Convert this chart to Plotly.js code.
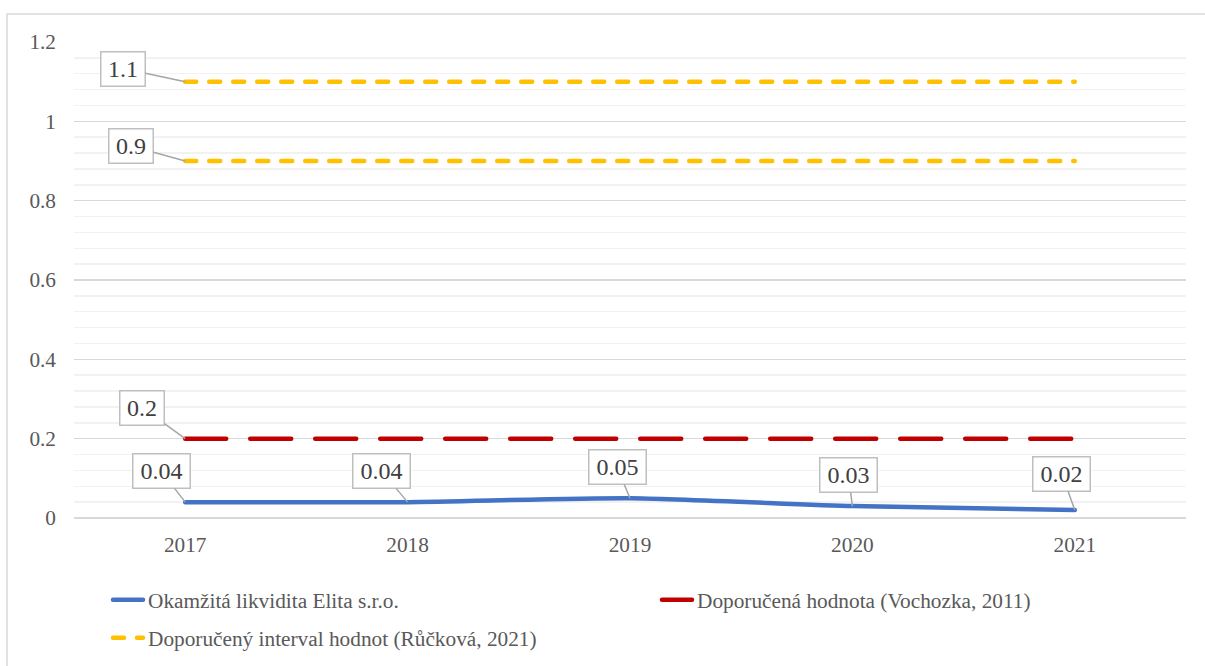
<!DOCTYPE html>
<html>
<head>
<meta charset="utf-8">
<script src="https://cdn.plot.ly/plotly-3.0.1.min.js"></script>
<style>
html,body{margin:0;padding:0;background:#fff;}
#chart{width:1205px;height:666px;}
.scatterlayer .js-line{stroke-linecap:round;}
.legendlines path{stroke-linecap:round;}
</style>
</head>
<body>
<div id="chart"></div>
<script>
// ---- data ----
const years = ['2017', '2018', '2019', '2020', '2021'];
const okamzitaLikvidita = [0.04, 0.04, 0.05, 0.03, 0.02];
const doporucenaHodnota = [0.2, 0.2, 0.2, 0.2, 0.2];
const intervalHorni = [1.1, 1.1, 1.1, 1.1, 1.1];
const intervalDolni = [0.9, 0.9, 0.9, 0.9, 0.9];
const seriesNames = [
  'Okamžitá likvidita Elita s.r.o.',
  'Doporučená hodnota (Vochozka, 2011)',
  'Doporučený interval hodnot (Růčková, 2021)'
];
const yTicks = [0, 0.2, 0.4, 0.6, 0.8, 1, 1.2];
const yTickLabels = ['0', '0.2', '0.4', '0.6', '0.8', '1', '1.2'];

const FONT = 'Liberation Serif, Times New Roman, serif';

const traces = [
  {
    x: years, y: okamzitaLikvidita, name: seriesNames[0], mode: 'lines', type: 'scatter',
    line: {color: '#4472C4', width: 4.5, shape: 'spline', smoothing: 0.6},
    hoverinfo: 'skip'
  },
  {
    x: years, y: doporucenaHodnota, name: seriesNames[1], mode: 'lines', type: 'scatter',
    line: {color: '#C00000', width: 4.5, dash: '41px,24px'},
    hoverinfo: 'skip'
  },
  {
    x: years, y: intervalHorni, name: seriesNames[2], mode: 'lines', type: 'scatter',
    legendgroup: 'int', legend: 'legend2',
    line: {color: '#FFC000', width: 4.5, dash: '11px,13px'},
    hoverinfo: 'skip'
  },
  {
    x: years, y: intervalDolni, name: seriesNames[2], mode: 'lines', type: 'scatter',
    legendgroup: 'int', legend: 'legend2', showlegend: false,
    line: {color: '#FFC000', width: 4.5, dash: '11px,13px'},
    hoverinfo: 'skip'
  }
];

function label(xi, yv, txt, ax, ay, w) {
  return {
    x: xi, y: yv, xref: 'x', yref: 'y', text: txt,
    showarrow: true, arrowhead: 0, arrowwidth: 1.5, arrowcolor: '#A6A6A6',
    ax: ax, ay: ay, axref: 'pixel', ayref: 'pixel',
    font: {family: FONT, size: 24, color: '#404040'},
    bgcolor: '#FFFFFF', bordercolor: '#BFBFBF', borderwidth: 1.5, borderpad: 0,
    width: w, height: 33, align: 'center', valign: 'middle'
  };
}

const labelOffsets = [[-24, -31], [-26, -31], [-13, -31], [-4, -31], [-13, -36]];
const annotations = [];
years.forEach((yr, i) => {
  annotations.push(label(i, okamzitaLikvidita[i], okamzitaLikvidita[i].toFixed(2), labelOffsets[i][0], labelOffsets[i][1], 56));
});
annotations.push(label(0, doporucenaHodnota[0], String(doporucenaHodnota[0]), -43, -31, 43));
annotations.push(label(0, intervalHorni[0], String(intervalHorni[0]), -62, -13, 43));
annotations.push(label(0, intervalDolni[0], String(intervalDolni[0]), -54, -15, 43));

const L = 74, R = 19, T = 42, B = 148, W = 1205, H = 666;
const pw = W - L - R, ph = H - T - B;
function px(x) { return (x - L) / pw; }
function py(y) { return (H - B - y) / ph; }

const legendFont = {family: FONT, size: 21.3, color: '#595959'};

const layout = {
  width: W, height: H,
  margin: {l: L, r: R, t: T, b: B, pad: 0, autoexpand: false},
  paper_bgcolor: '#FFFFFF', plot_bgcolor: '#FFFFFF',
  font: {family: FONT, size: 21, color: '#595959'},
  showlegend: true,
  xaxis: {
    type: 'category', range: [-0.5, 4.5], fixedrange: true,
    showgrid: false, zeroline: false, showline: false,
    ticks: '', ticklabelstandoff: 12,
    tickfont: {family: FONT, size: 21.3, color: '#595959'}
  },
  yaxis: {
    range: [0, 1.2], fixedrange: true,
    tickvals: yTicks, ticktext: yTickLabels,
    showgrid: true, gridcolor: '#D9D9D9', gridwidth: 1.5,
    zeroline: true, zerolinecolor: '#D9D9D9', zerolinewidth: 1.5,
    showline: false, ticks: '', ticklabelstandoff: 17,
    tickfont: {family: FONT, size: 21.3, color: '#595959'},
    minor: {dtick: 0.04, tick0: 0, showgrid: true, gridcolor: '#F2F2F2', gridwidth: 1.5, ticks: ''}
  },
  legend: {
    orientation: 'h', x: px(108), xanchor: 'left', y: py(600), yanchor: 'middle',
    entrywidth: 504, entrywidthmode: 'pixels',
    font: legendFont,
    bgcolor: 'rgba(0,0,0,0)', itemclick: false, itemdoubleclick: false,
    traceorder: 'normal'
  },
  legend2: {
    orientation: 'h', x: px(108), xanchor: 'left', y: py(638), yanchor: 'middle',
    font: legendFont,
    bgcolor: 'rgba(0,0,0,0)', itemclick: false, itemdoubleclick: false
  },
  annotations: annotations,
  shapes: [
    {type: 'rect', xref: 'paper', yref: 'paper', x0: px(7), x1: px(1212), y0: py(14), y1: py(680),
     line: {color: '#D9D9D9', width: 1.5}, fillcolor: 'rgba(0,0,0,0)', layer: 'below'}
  ]
};

Plotly.newPlot('chart', traces, layout, {displayModeBar: false, staticPlot: true});
</script>
</body>
</html>
